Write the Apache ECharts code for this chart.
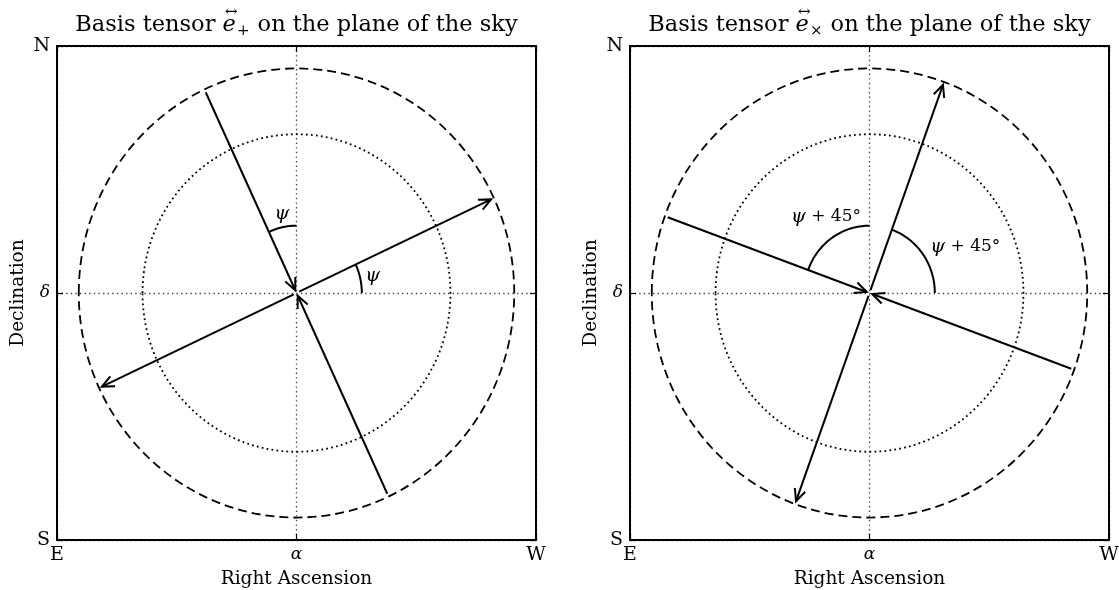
<!DOCTYPE html>
<html>
<head>
<meta charset="utf-8">
<script src="https://cdn.jsdelivr.net/npm/echarts@6/dist/echarts.min.js"></script>
<style>
  html, body { margin: 0; padding: 0; background: #fff; }
  #chart { width: 1119px; height: 590px; }
</style>
</head>
<body>
<div id="chart"></div>
<script>
// Sky-direction tick labels on both panels
const raTickLabels = ['E', 'α', 'W'];
const decTickLabels = ['S', 'δ', 'N'];
const axisExtent = 1.1;

// Reference circles: unit circle (dashed) and 1/sqrt(2) circle (dotted)
const circleRadii = [1, 0.7071];

// Arrows: [direction angle in degrees, 1 = head at the rim, 0 = head at the centre]
const plusArrows = [[25, 1], [205, 1], [115, 0], [295, 0]];
const crossArrows = [[70, 1], [250, 1], [160, 0], [340, 0]];

// Angle markers: [start angle, end angle] in degrees
const arcRadius = 0.3;
const plusArcs = [[90, 115], [0, 25]];
const crossArcs = [[90, 160], [0, 70]];

// Angle marker texts (symbol part, plain part) and their anchor points
const plusArcSymbol = ['ψ', 'ψ'];
const plusArcPlain = ['', ''];
const plusArcTextPos = [[-0.067, 0.35], [0.35, 0.075]];
const crossArcSymbol = ['ψ', 'ψ'];
const crossArcPlain = [' + 45°', ' + 45°'];
const crossArcTextPos = [[-0.2, 0.34], [0.44, 0.205]];

// Panel titles
const titleSubscripts = ['+', '×'];
const titleHead = 'Basis tensor ';
const titleTail = ' on the plane of the sky';

const FONT = '"DejaVu Serif", "Liberation Serif", serif';
const INK = '#000';

const chart = echarts.init(document.getElementById('chart'), null, { renderer: 'canvas' });

function pickLabel(labels) {
  return function (v) {
    if (v < -0.5) return labels[0];
    if (v > 0.5) return labels[2];
    return labels[1];
  };
}

function renderCircle(params, api) {
  const r = api.value(0);
  const c = api.coord([0, 0]);
  const s = api.size([r, r]);
  return {
    type: 'ellipse',
    shape: { cx: c[0], cy: c[1], rx: s[0], ry: s[1] },
    style: {
      fill: null, stroke: INK, lineWidth: 1.8,
      lineDash: params.dataIndex === 0 ? [9, 5] : [1.8, 3.2]
    },
    silent: true
  };
}

function renderArrow(params, api) {
  const ang = api.value(0) * Math.PI / 180;
  const outward = api.value(1) === 1;
  const c = api.coord([0, 0]);
  const e = api.coord([Math.cos(ang), Math.sin(ang)]);
  const dx = e[0] - c[0], dy = e[1] - c[1];
  const len = Math.hypot(dx, dy);
  const ux = dx / len, uy = dy / len;
  const shrink = 3;
  const a = [c[0] + ux * shrink, c[1] + uy * shrink];
  const b = [e[0] - ux * shrink, e[1] - uy * shrink];
  const tip = outward ? b : a;
  const d = outward ? [ux, uy] : [-ux, -uy];
  const L = 12, W = 5.5;
  const back = [tip[0] - d[0] * L, tip[1] - d[1] * L];
  const h1 = [back[0] - d[1] * W, back[1] + d[0] * W];
  const h2 = [back[0] + d[1] * W, back[1] - d[0] * W];
  return {
    type: 'group',
    silent: true,
    children: [
      { type: 'line', shape: { x1: a[0], y1: a[1], x2: b[0], y2: b[1] },
        style: { stroke: INK, lineWidth: 2 } },
      { type: 'polyline', shape: { points: [h1, tip, h2] },
        style: { stroke: INK, fill: null, lineWidth: 2 } }
    ]
  };
}

function renderArc(params, api) {
  const a0 = api.value(0) * Math.PI / 180;
  const a1 = api.value(1) * Math.PI / 180;
  const pts = [];
  const n = 40;
  for (let i = 0; i <= n; i++) {
    const t = a0 + (a1 - a0) * i / n;
    pts.push(api.coord([arcRadius * Math.cos(t), arcRadius * Math.sin(t)]));
  }
  return {
    type: 'polyline',
    shape: { points: pts },
    style: { stroke: INK, fill: null, lineWidth: 2 },
    silent: true
  };
}

function textRenderer(symbols, plains) {
  return function (params, api) {
    const p = api.coord([api.value(0), api.value(1)]);
    const i = params.dataIndex;
    return {
      type: 'text',
      x: p[0], y: p[1],
      style: {
        text: '{s|' + symbols[i] + '}' + (plains[i] ? '{p|' + plains[i] + '}' : ''),
        align: 'center', verticalAlign: 'middle',
        rich: {
          s: { fontStyle: 'italic', fontFamily: FONT, fontSize: 19, fill: INK },
          p: { fontFamily: FONT, fontSize: 17, fill: INK }
        }
      },
      silent: true
    };
  };
}

const grids = [
  { left: 57, top: 46, width: 479, height: 494, containLabel: false, outerBoundsMode: 'none' },
  { left: 630, top: 46, width: 479, height: 494, containLabel: false, outerBoundsMode: 'none' }
];

const tickFontSize = 19;
const italicRich = { m: { fontStyle: 'italic', fontFamily: FONT, fontSize: 17, color: INK } };
function richFormatter(labels) {
  const pick = pickLabel(labels);
  return function (v) {
    const s = pick(v);
    return s === labels[1] ? '{m|' + s + '}' : s;
  };
}

const xAxes = [], yAxes = [];
grids.forEach(function (g, i) {
  const common = {
    type: 'value', gridIndex: i,
    min: -axisExtent, max: axisExtent, interval: axisExtent,
    axisLine: { show: true, onZero: false, lineStyle: { color: INK, width: 2 } },
    axisTick: { show: true, inside: true, length: 6, lineStyle: { color: INK, width: 1.2 } }
  };
  const gridLine = { show: true, lineStyle: { color: '#444', width: 1.3, type: [1.4, 3.2] } };
  xAxes.push(Object.assign({}, common, {
    position: 'bottom',
    name: 'Right Ascension', nameLocation: 'middle', nameGap: 29,
    nameTextStyle: { fontFamily: FONT, fontSize: 18.5, color: INK },
    axisLabel: {
      show: true, margin: 6, showMinLabel: true, showMaxLabel: true,
      formatter: richFormatter(raTickLabels),
      fontFamily: FONT, fontSize: tickFontSize, color: INK, rich: italicRich
    },
    splitLine: gridLine
  }));
  xAxes.push(Object.assign({}, common, {
    position: 'top',
    axisLabel: { show: false },
    splitLine: { show: false }
  }));
  yAxes.push(Object.assign({}, common, {
    position: 'left',
    name: 'Declination', nameLocation: 'middle', nameGap: 29, nameRotate: 90,
    nameTextStyle: { fontFamily: FONT, fontSize: 18.5, color: INK },
    axisLabel: {
      show: true, margin: 7, showMinLabel: true, showMaxLabel: true,
      formatter: richFormatter(decTickLabels),
      fontFamily: FONT, fontSize: tickFontSize, color: INK, rich: italicRich
    },
    splitLine: gridLine
  }));
  yAxes.push(Object.assign({}, common, {
    position: 'right',
    axisLabel: { show: false },
    splitLine: { show: false }
  }));
});

const panels = [
  { arrows: plusArrows, arcs: plusArcs, sym: plusArcSymbol, plain: plusArcPlain, textPos: plusArcTextPos },
  { arrows: crossArrows, arcs: crossArcs, sym: crossArcSymbol, plain: crossArcPlain, textPos: crossArcTextPos }
];

const series = [];
panels.forEach(function (p, i) {
  const axes = { xAxisIndex: i * 2, yAxisIndex: i * 2 };
  series.push(Object.assign({ type: 'custom', clip: false, z: 2, renderItem: renderCircle,
    data: circleRadii.map(function (r) { return [r, 0]; }) }, axes));
  series.push(Object.assign({ type: 'custom', clip: false, z: 3, renderItem: renderArrow,
    data: p.arrows }, axes));
  series.push(Object.assign({ type: 'custom', clip: false, z: 3, renderItem: renderArc,
    data: p.arcs }, axes));
  series.push(Object.assign({ type: 'custom', clip: false, z: 4,
    renderItem: textRenderer(p.sym, p.plain), data: p.textPos }, axes));
});

// Titles: "Basis tensor" + e with a double arrow accent and a subscript
const measureCtx = document.createElement('canvas').getContext('2d');
function textWidth(str, font) {
  measureCtx.font = font;
  return measureCtx.measureText(str).width;
}
const titleFont = '22.5px ' + FONT;
const titleItalic = 'italic 22.5px ' + FONT;
const subFont = '15px ' + FONT;
const accentFont = '15px ' + FONT;
const titleY = 25;
const graphics = [];
grids.forEach(function (g, i) {
  const sub = titleSubscripts[i];
  const wHead = textWidth(titleHead, titleFont);
  const wE = textWidth('e', titleItalic);
  const wSub = textWidth(sub, subFont);
  const wTail = textWidth(titleTail, titleFont);
  const total = wHead + wE + wSub + 2 + wTail;
  let x = g.left + g.width / 2 - total / 2;
  const style = function (text, font) {
    return { text: text, font: font, fill: INK, align: 'left', verticalAlign: 'middle' };
  };
  graphics.push({ type: 'text', x: x, y: titleY, style: style(titleHead, titleFont) });
  x += wHead;
  graphics.push({ type: 'text', x: x, y: titleY, style: style('e', titleItalic) });
  graphics.push({ type: 'text', x: x + wE / 2 + 2, y: titleY - 13,
    style: { text: '↔', font: accentFont, fill: INK, align: 'center', verticalAlign: 'middle' } });
  x += wE + 1;
  graphics.push({ type: 'text', x: x, y: titleY + 6, style: style(sub, subFont) });
  x += wSub + 1;
  graphics.push({ type: 'text', x: x, y: titleY, style: style(titleTail, titleFont) });
});

chart.setOption({
  backgroundColor: '#fff',
  animation: false,
  grid: grids,
  xAxis: xAxes,
  yAxis: yAxes,
  series: series,
  graphic: graphics
});
</script>
</body>
</html>
